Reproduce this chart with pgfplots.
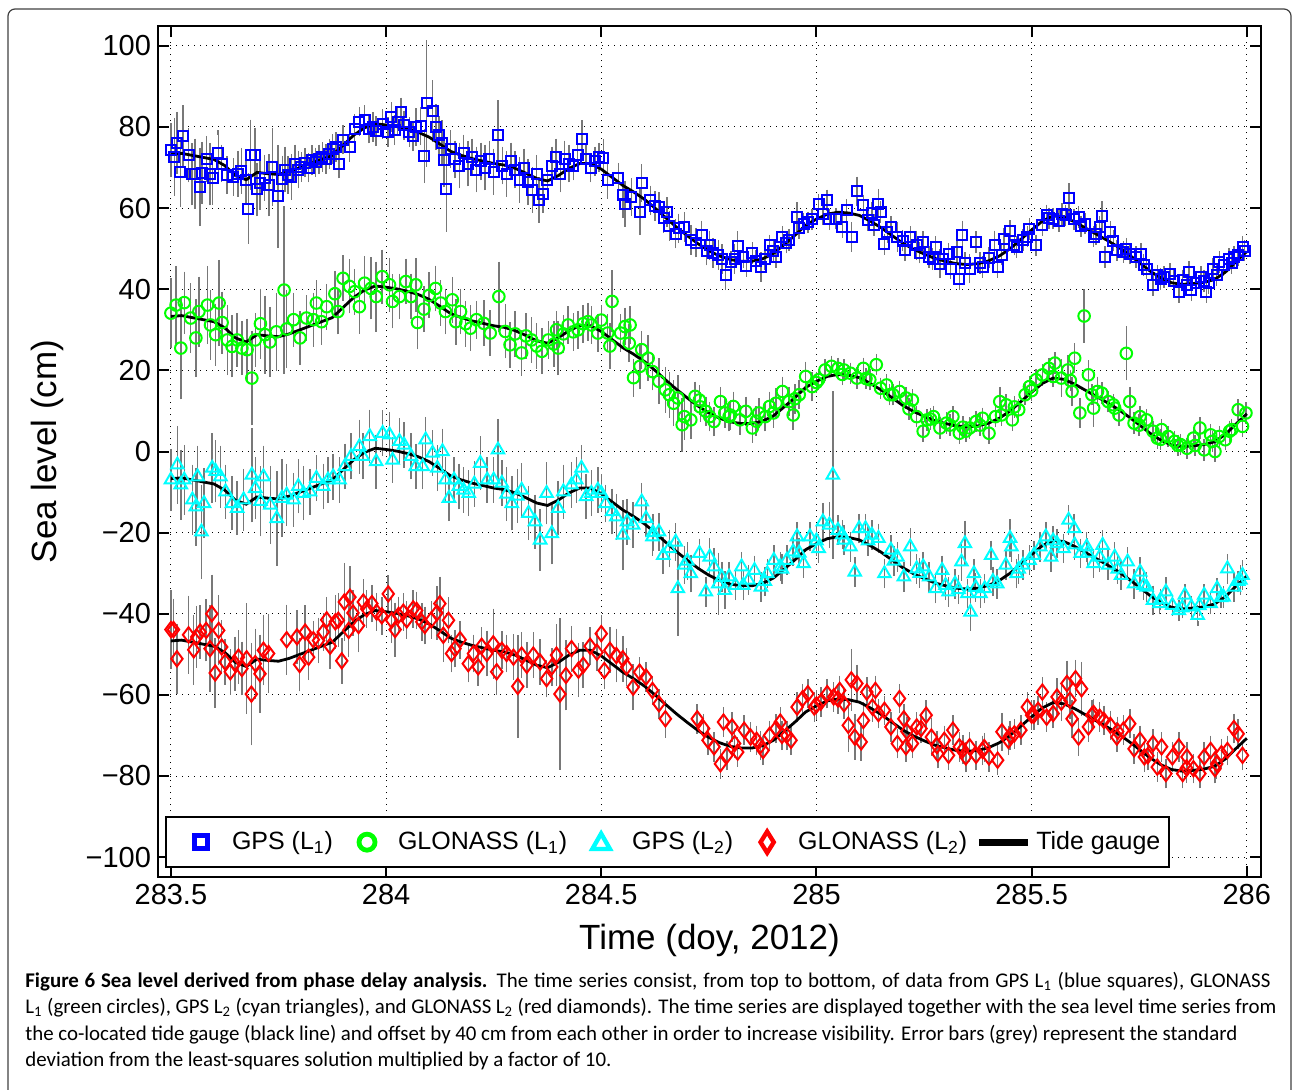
\documentclass[border=0pt]{standalone}
\usepackage{fontspec}
\setmainfont{Liberation Sans}
\newfontfamily\capfont{Carlito}
\usepackage{pgfplots}
\usepackage{pgfplotstable}
\pgfplotsset{compat=1.18}
\definecolor{mblue}{rgb}{0,0,1}
\definecolor{mgreen}{rgb}{0,1,0}
\definecolor{mcyan}{rgb}{0,1,1}
\definecolor{mred}{rgb}{1,0,0}
\definecolor{ebgrey}{rgb}{0.47,0.47,0.47}

% tide gauge, 4 copies offset by 40 cm (a = top ... d = bottom)
\pgfplotstableread{
t a b c d
283.5000 73.3 33.3 -6.7 -46.7
283.5125 73.4 33.4 -6.6 -46.6
283.5250 73.5 33.5 -6.5 -46.5
283.5375 73.25 33.25 -6.75 -46.75
283.5500 73.0 33.0 -7.0 -47.0
283.5625 72.75 32.75 -7.25 -47.25
283.5750 72.5 32.5 -7.5 -47.5
283.5875 72.25 32.25 -7.75 -47.75
283.6000 72.0 32.0 -8.0 -48.0
283.6125 71.25 31.25 -8.75 -48.75
283.6250 70.5 30.5 -9.5 -49.5
283.6375 69.25 29.25 -10.75 -50.75
283.6500 68.0 28.0 -12.0 -52.0
283.6625 67.5 27.5 -12.5 -52.5
283.6750 67.0 27.0 -13.0 -53.0
283.6875 67.9 27.9 -12.1 -52.1
283.7000 68.8 28.8 -11.2 -51.2
283.7125 68.65 28.65 -11.35 -51.35
283.7250 68.5 28.5 -11.5 -51.5
283.7375 68.4 28.4 -11.6 -51.6
283.7500 68.3 28.3 -11.7 -51.7
283.7625 68.65 28.65 -11.35 -51.35
283.7750 69.0 29.0 -11.0 -51.0
283.7875 69.5 29.5 -10.5 -50.5
283.8000 70.0 30.0 -10.0 -50.0
283.8125 70.5 30.5 -9.5 -49.5
283.8250 71.0 31.0 -9.0 -49.0
283.8375 71.5 31.5 -8.5 -48.5
283.8500 72.0 32.0 -8.0 -48.0
283.8625 72.5 32.5 -7.5 -47.5
283.8750 73.0 33.0 -7.0 -47.0
283.8875 74.25 34.25 -5.75 -45.75
283.9000 75.5 35.5 -4.5 -44.5
283.9125 76.75 36.75 -3.25 -43.25
283.9250 78.0 38.0 -2.0 -42.0
283.9375 78.9 38.9 -1.1 -41.1
283.9500 79.8 39.8 -0.2 -40.2
283.9625 80.3 40.3 0.3 -39.7
283.9750 80.8 40.8 0.8 -39.2
283.9875 80.65 40.65 0.65 -39.35
284.0000 80.5 40.5 0.5 -39.5
284.0125 80.3 40.3 0.3 -39.7
284.0250 80.1 40.1 0.1 -39.9
284.0375 79.8 39.8 -0.2 -40.2
284.0500 79.5 39.5 -0.5 -40.5
284.0625 79.1 39.1 -0.9 -40.9
284.0750 78.7 38.7 -1.3 -41.3
284.0875 78.1 38.1 -1.9 -41.9
284.1000 77.5 37.5 -2.5 -42.5
284.1125 76.65 36.65 -3.35 -43.35
284.1250 75.8 35.8 -4.2 -44.2
284.1375 74.9 34.9 -5.1 -45.1
284.1500 74.0 34.0 -6.0 -46.0
284.1625 73.5 33.5 -6.5 -46.5
284.1750 73.0 33.0 -7.0 -47.0
284.1875 72.6 32.6 -7.4 -47.4
284.2000 72.2 32.2 -7.8 -47.8
284.2125 71.9 31.9 -8.1 -48.1
284.2250 71.6 31.6 -8.4 -48.4
284.2375 71.3 31.3 -8.7 -48.7
284.2500 71.0 31.0 -9.0 -49.0
284.2625 70.8 30.8 -9.2 -49.2
284.2750 70.6 30.6 -9.4 -49.4
284.2875 70.2 30.2 -9.8 -49.8
284.3000 69.8 29.8 -10.2 -50.2
284.3125 69.2 29.2 -10.8 -50.8
284.3250 68.6 28.6 -11.4 -51.4
284.3375 67.95 27.95 -12.05 -52.05
284.3500 67.3 27.3 -12.7 -52.7
284.3625 67.0 27.0 -13.0 -53.0
284.3750 66.7 26.7 -13.3 -53.3
284.3875 67.35 27.35 -12.65 -52.65
284.4000 68.0 28.0 -12.0 -52.0
284.4125 68.9 28.9 -11.1 -51.1
284.4250 69.8 29.8 -10.2 -50.2
284.4375 70.4 30.4 -9.6 -49.6
284.4500 71.0 31.0 -9.0 -49.0
284.4625 71.0 31.0 -9.0 -49.0
284.4750 71.0 31.0 -9.0 -49.0
284.4875 70.3 30.3 -9.7 -49.7
284.5000 69.6 29.6 -10.4 -50.4
284.5125 68.6 28.6 -11.4 -51.4
284.5250 67.6 27.6 -12.4 -52.4
284.5375 66.6 26.6 -13.4 -53.4
284.5500 65.6 25.6 -14.4 -54.4
284.5625 64.8 24.8 -15.2 -55.2
284.5750 64.0 24.0 -16.0 -56.0
284.5875 63.1 23.1 -16.9 -56.9
284.6000 62.2 22.2 -17.8 -57.8
284.6125 61.1 21.1 -18.9 -58.9
284.6250 60.0 20.0 -20.0 -60.0
284.6375 58.8 18.8 -21.2 -61.2
284.6500 57.6 17.6 -22.4 -62.4
284.6625 56.45 16.45 -23.55 -63.55
284.6750 55.3 15.3 -24.7 -64.7
284.6875 54.25 14.25 -25.75 -65.75
284.7000 53.2 13.2 -26.8 -66.8
284.7125 52.2 12.2 -27.8 -67.8
284.7250 51.2 11.2 -28.8 -68.8
284.7375 50.35 10.35 -29.65 -69.65
284.7500 49.5 9.5 -30.5 -70.5
284.7625 48.85 8.85 -31.15 -71.15
284.7750 48.2 8.2 -31.8 -71.8
284.7875 47.75 7.75 -32.25 -72.25
284.8000 47.3 7.3 -32.7 -72.7
284.8125 47.1 7.1 -32.9 -72.9
284.8250 46.9 6.9 -33.1 -73.1
284.8375 46.9 6.9 -33.1 -73.1
284.8500 46.9 6.9 -33.1 -73.1
284.8625 47.2 7.2 -32.8 -72.8
284.8750 47.5 7.5 -32.5 -72.5
284.8875 48.15 8.15 -31.85 -71.85
284.9000 48.8 8.8 -31.2 -71.2
284.9125 49.9 9.9 -30.1 -70.1
284.9250 51.0 11.0 -29.0 -69.0
284.9375 52.15 12.15 -27.85 -67.85
284.9500 53.3 13.3 -26.7 -66.7
284.9625 54.55 14.55 -25.45 -65.45
284.9750 55.8 15.8 -24.2 -64.2
284.9875 56.55 16.55 -23.45 -63.45
285.0000 57.3 17.3 -22.7 -62.7
285.0125 57.9 17.9 -22.1 -62.1
285.0250 58.5 18.5 -21.5 -61.5
285.0375 58.75 18.75 -21.25 -61.25
285.0500 59.0 19.0 -21.0 -61.0
285.0625 58.9 18.9 -21.1 -61.1
285.0750 58.8 18.8 -21.2 -61.2
285.0875 58.5 18.5 -21.5 -61.5
285.1000 58.2 18.2 -21.8 -61.8
285.1125 57.5 17.5 -22.5 -62.5
285.1250 56.8 16.8 -23.2 -63.2
285.1375 56.0 16.0 -24.0 -64.0
285.1500 55.2 15.2 -24.8 -64.8
285.1625 54.25 14.25 -25.75 -65.75
285.1750 53.3 13.3 -26.7 -66.7
285.1875 52.35 12.35 -27.65 -67.65
285.2000 51.4 11.4 -28.6 -68.6
285.2125 50.65 10.65 -29.35 -69.35
285.2250 49.9 9.9 -30.1 -70.1
285.2375 49.3 9.3 -30.7 -70.7
285.2500 48.7 8.7 -31.3 -71.3
285.2625 48.15 8.15 -31.85 -71.85
285.2750 47.6 7.6 -32.4 -72.4
285.2875 47.25 7.25 -32.75 -72.75
285.3000 46.9 6.9 -33.1 -73.1
285.3125 46.6 6.6 -33.4 -73.4
285.3250 46.3 6.3 -33.7 -73.7
285.3375 46.2 6.2 -33.8 -73.8
285.3500 46.1 6.1 -33.9 -73.9
285.3625 46.2 6.2 -33.8 -73.8
285.3750 46.3 6.3 -33.7 -73.7
285.3875 46.65 6.65 -33.35 -73.35
285.4000 47.0 7.0 -33.0 -73.0
285.4125 47.6 7.6 -32.4 -72.4
285.4250 48.2 8.2 -31.8 -71.8
285.4375 49.1 9.1 -30.9 -70.9
285.4500 50.0 10.0 -30.0 -70.0
285.4625 51.15 11.15 -28.85 -68.85
285.4750 52.3 12.3 -27.7 -67.7
285.4875 53.45 13.45 -26.55 -66.55
285.5000 54.6 14.6 -25.4 -65.4
285.5125 55.7 15.7 -24.3 -64.3
285.5250 56.8 16.8 -23.2 -63.2
285.5375 57.45 17.45 -22.55 -62.55
285.5500 58.1 18.1 -21.9 -61.9
285.5625 57.95 17.95 -22.05 -62.05
285.5750 57.8 17.8 -22.2 -62.2
285.5875 57.2 17.2 -22.8 -62.8
285.6000 56.6 16.6 -23.4 -63.4
285.6125 55.85 15.85 -24.15 -64.15
285.6250 55.1 15.1 -24.9 -64.9
285.6375 54.35 14.35 -25.65 -65.65
285.6500 53.6 13.6 -26.4 -66.4
285.6625 52.85 12.85 -27.15 -67.15
285.6750 52.1 12.1 -27.9 -67.9
285.6875 51.3 11.3 -28.7 -68.7
285.7000 50.5 10.5 -29.5 -69.5
285.7125 49.55 9.55 -30.45 -70.45
285.7250 48.6 8.6 -31.4 -71.4
285.7375 47.6 7.6 -32.4 -72.4
285.7500 46.6 6.6 -33.4 -73.4
285.7625 45.55 5.55 -34.45 -74.45
285.7750 44.5 4.5 -35.5 -75.5
285.7875 43.65 3.65 -36.35 -76.35
285.8000 42.8 2.8 -37.2 -77.2
285.8125 42.2 2.2 -37.8 -77.8
285.8250 41.6 1.6 -38.4 -78.4
285.8375 41.4 1.4 -38.6 -78.6
285.8500 41.2 1.2 -38.8 -78.8
285.8625 41.3 1.3 -38.7 -78.7
285.8750 41.4 1.4 -38.6 -78.6
285.8875 41.55 1.55 -38.45 -78.45
285.9000 41.7 1.7 -38.3 -78.3
285.9125 42.05 2.05 -37.95 -77.95
285.9250 42.4 2.4 -37.6 -77.6
285.9375 43.3 3.3 -36.7 -76.7
285.9500 44.2 4.2 -35.8 -75.8
285.9625 45.5 5.5 -34.5 -74.5
285.9750 46.8 6.8 -33.2 -73.2
285.9875 48.05 8.05 -31.95 -71.95
286.0000 49.3 9.3 -30.7 -70.7
}\tide

% GPS L1
\pgfplotstableread{
t v e
283.500 74.3 6
283.508 72.6 9
283.514 76.1 7
283.522 68.9 8
283.528 77.7 7
283.541 73.0 6
283.549 68.3 7
283.556 68.5 8
283.568 65.2 9
283.572 68.7 7
283.583 72.2 5
283.591 68.3 7
283.597 67.5 6
283.610 73.6 5
283.618 71.0 4
283.630 68.1 4
283.645 67.7 4
283.656 68.5 5
283.664 69.2 5
283.674 66.9 5
283.680 59.9 8
283.685 73.2 8
283.695 73.2 6
283.700 64.6 6
283.707 66.2 6
283.718 67.5 5
283.728 65.6 7
283.736 70.1 9
283.749 62.9 12
283.759 67.3 5
283.765 69.5 5
283.772 68.2 4
283.780 67.7 5
283.788 71.0 4
283.796 69.5 4
283.803 70.1 3
283.812 71.2 3
283.820 70.0 3
283.828 71.8 3
283.836 71.3 3
283.844 72.0 3
283.852 72.6 3
283.860 72.1 3
283.868 73.3 3
283.876 74.6 3
283.884 75.1 3
283.890 71.0 3
283.900 76.9 3
283.915 75.1 3
283.927 79.6 3
283.938 81.3 3
283.950 81.7 3
283.960 79.6 3
283.970 80.0 3
283.977 79.0 3
283.992 80.7 3
284.004 78.8 3
284.012 82.5 3
284.020 79.2 3
284.027 81.3 3
284.035 83.6 3
284.042 80.4 3
284.054 78.8 3
284.062 77.7 3
284.070 80.0 4
284.080 80.2 4
284.089 72.8 6
284.094 85.8 15
284.108 83.9 7
284.116 80.0 5
284.123 78.1 4
284.130 76.0 5
284.135 71.8 6
284.140 64.8 10
284.150 74.5 4
284.160 72.0 4
284.170 70.5 5
284.180 73.5 4
284.190 71.0 5
284.200 72.5 4
284.210 69.5 5
284.220 71.5 4
284.230 70.0 5
284.240 72.0 4
284.250 69.0 5
284.260 78.0 8
284.270 70.5 4
284.280 68.5 5
284.290 71.5 4
284.300 69.5 4
284.310 67.0 5
284.320 70.0 4
284.330 66.5 5
284.340 64.5 5
284.350 68.5 4
284.355 62.0 5
284.365 63.5 4
284.375 67.0 4
284.385 70.5 4
284.395 72.5 4
284.405 68.5 4
284.415 72.0 4
284.425 71.0 4
284.435 70.5 3
284.445 73.0 3
284.455 77.0 4
284.465 72.0 3
284.475 70.0 3
284.485 71.5 3
284.495 72.5 3
284.505 72.4 4
284.515 66.9 4
284.540 67.5 3
284.550 63.2 5
284.555 61.1 5
284.570 62.7 4
284.590 59.0 5
284.594 66.2 4
284.614 61.9 3
284.625 60.5 3
284.634 60.3 3
284.645 57.5 3
284.653 59.0 3
284.658 55.6 3
284.673 53.7 3
284.680 55.0 3
284.693 55.3 3
284.708 52.1 3
284.720 51.5 3
284.733 53.3 3
284.745 49.5 3
284.752 50.8 3
284.760 49.0 3
284.772 48.4 3
284.780 47.5 3
284.789 43.4 3
284.802 46.7 2
284.810 47.5 3
284.817 50.6 3
284.830 48.0 2
284.837 45.7 2
284.851 48.9 2
284.860 47.0 2
284.871 45.5 3
284.880 47.5 2
284.891 50.8 2
284.900 49.5 2
284.906 48.0 2
284.921 52.9 2
284.930 51.5 2
284.936 52.1 2
284.955 57.8 3
284.960 55.0 2
284.970 56.2 2
284.980 56.5 2
284.990 57.2 2
285.005 60.9 2
285.015 58.5 2
285.025 61.9 2
285.030 57.2 2
285.045 57.4 2
285.060 55.3 2
285.070 59.5 2
285.082 52.9 3
285.094 64.1 3
285.109 60.7 2
285.120 57.0 2
285.129 58.8 2
285.134 55.8 2
285.144 61.1 3
285.149 59.0 2
285.158 51.1 2
285.165 54.0 2
285.173 55.3 2
285.188 52.9 3
285.200 52.0 2
285.206 49.6 2
285.218 52.9 2
285.233 50.8 3
285.240 49.0 2
285.248 51.7 2
285.262 48.0 2
285.270 47.5 2
285.277 50.4 2
285.287 46.3 3
285.295 47.5 2
285.307 48.8 2
285.312 45.1 2
285.327 49.2 2
285.332 42.5 2
285.339 53.3 3
285.345 46.5 2
285.356 45.1 3
285.371 51.7 2
285.380 46.5 2
285.386 45.5 2
285.401 47.8 2
285.414 50.8 3
285.421 45.5 2
285.430 48.5 2
285.436 52.5 2
285.450 54.4 2
285.460 51.0 2
285.465 50.4 2
285.480 52.1 2
285.490 53.0 2
285.495 54.9 2
285.510 50.8 2
285.525 55.8 2
285.535 58.2 2
285.540 57.5 2
285.550 57.4 2
285.564 56.8 2
285.570 58.5 2
285.579 58.2 2
285.587 62.5 3
285.599 57.2 2
285.609 57.8 2
285.615 55.5 2
285.624 56.2 2
285.644 53.0 2
285.650 53.5 2
285.658 55.3 2
285.663 58.1 3
285.671 48.0 2
285.683 54.1 2
285.690 52.0 2
285.698 49.6 2
285.713 49.2 2
285.720 50.0 2
285.728 48.8 2
285.743 48.0 2
285.754 48.8 2
285.760 46.0 2
285.767 45.1 2
285.782 41.0 2
285.792 43.4 2
285.800 42.5 2
285.807 43.0 2
285.822 43.8 2
285.830 42.0 2
285.842 39.3 2
285.851 42.2 2
285.860 41.0 2
285.866 44.3 2
285.871 39.7 2
285.881 41.5 2
285.893 43.0 2
285.900 42.0 2
285.906 39.3 2
285.911 41.5 2
285.921 45.1 2
285.930 43.5 2
285.936 46.7 2
285.946 45.9 2
285.959 47.5 2
285.965 46.5 2
285.970 48.0 2
285.980 48.4 2
285.990 50.4 2
285.995 49.5 2
}\gpsone

% GLONASS L1
\pgfplotstableread{
t v e
283.500 34.1 8
283.512 36.1 9
283.523 25.5 12
283.531 36.7 7
283.546 32.9 8
283.558 28.0 9
283.565 34.5 8
283.585 36.1 9
283.592 31.2 8
283.604 28.8 7
283.612 36.6 10
283.619 31.8 7
283.631 27.5 8
283.642 25.9 7
283.654 27.5 6
283.665 25.5 6
283.677 25.1 7
283.688 18.1 11
283.696 27.5 6
283.708 31.5 8
283.719 28.8 9
283.730 27.0 8
283.745 29.5 9
283.763 39.8 20
283.769 30.2 9
283.785 32.5 6
283.800 28.0 6
283.815 32.9 5
283.831 32.5 6
283.838 36.6 5
283.850 32.0 5
283.862 35.7 5
283.881 38.9 5
283.888 34.5 5
283.900 42.7 5
283.915 40.7 6
283.927 39.4 5
283.938 35.7 6
283.950 41.5 6
283.965 40.2 7
283.977 38.2 8
283.991 43.1 6
284.008 41.1 6
284.015 37.0 6
284.031 38.2 5
284.046 41.9 5
284.058 38.2 5
284.069 41.1 6
284.073 31.8 6
284.088 35.1 5
284.100 38.5 5
284.115 40.2 5
284.127 36.6 5
284.138 34.5 5
284.154 37.4 5
284.162 32.0 5
284.173 34.5 5
284.185 31.5 5
284.196 30.4 5
284.210 32.5 4
284.227 31.6 5
284.242 29.2 5
284.262 38.2 8
284.277 29.6 6
284.288 26.3 5
284.300 29.0 5
284.315 24.3 5
284.325 28.5 5
284.338 27.5 5
284.350 26.0 5
284.362 24.7 5
284.377 27.5 4
284.390 26.5 5
284.396 30.0 4
284.400 25.5 6
284.412 29.0 4
284.423 31.2 4
284.435 29.5 4
284.446 30.0 4
284.458 31.5 4
284.469 32.0 4
284.477 31.2 4
284.492 29.2 4
284.500 32.4 3
284.515 29.2 4
284.520 26.0 5
284.525 37.0 7
284.545 29.2 4
284.555 30.8 4
284.565 26.7 4
284.567 31.2 4
284.575 18.2 4
284.590 21.0 5
284.594 25.1 4
284.609 23.0 5
284.619 19.7 4
284.634 17.3 5
284.649 15.2 5
284.658 14.0 5
284.668 11.9 5
284.678 13.2 5
284.688 6.6 6
284.693 8.6 5
284.708 7.8 4
284.718 13.6 3
284.728 12.7 3
284.730 11.0 3
284.743 9.9 3
284.752 8.6 3
284.762 7.4 3
284.777 12.3 3
284.787 9.5 3
284.797 8.6 3
284.800 9.0 3
284.807 11.1 3
284.822 7.8 3
284.836 9.9 3
284.851 5.8 3
284.860 7.5 3
284.866 9.5 3
284.881 8.6 3
284.891 11.1 3
284.900 9.5 3
284.906 11.9 3
284.921 14.8 3
284.936 12.3 3
284.946 9.0 3
284.950 13.0 3
284.960 14.0 3
284.975 18.5 3
284.990 16.0 3
285.000 17.0 2
285.005 17.7 2
285.020 20.1 2
285.035 21.0 2
285.050 20.5 2
285.060 19.0 2
285.064 20.1 2
285.079 19.3 2
285.094 18.1 2
285.109 20.5 2
285.115 18.0 2
285.124 17.7 2
285.139 21.4 2
285.149 15.6 2
285.163 16.4 2
285.170 14.0 2
285.178 14.0 2
285.193 14.8 2
285.208 13.2 2
285.215 10.5 2
285.223 12.7 2
285.233 8.6 2
285.248 5.0 2
285.257 7.8 2
285.265 8.0 2
285.272 8.6 2
285.287 5.8 2
285.302 7.0 2
285.310 6.5 2
285.317 8.6 2
285.332 4.5 2
285.340 6.0 2
285.347 5.0 2
285.356 5.8 2
285.371 7.4 2
285.380 6.5 2
285.386 8.2 2
285.401 4.5 2
285.416 8.6 2
285.426 12.3 3
285.430 9.0 2
285.441 11.5 2
285.455 7.8 2
285.460 11.0 2
285.470 10.3 2
285.485 14.0 2
285.495 16.0 2
285.500 15.0 2
285.510 17.7 2
285.525 18.9 2
285.540 20.5 2
285.550 18.5 2
285.554 21.8 2
285.569 18.1 4
285.584 20.1 3
285.590 17.5 2
285.594 14.8 3
285.600 23.0 3
285.612 9.5 3
285.622 33.4 6
285.632 18.9 3
285.640 14.0 2
285.644 10.7 4
285.653 14.8 3
285.663 14.4 2
285.678 12.3 2
285.690 11.5 2
285.693 10.7 2
285.703 9.0 2
285.720 24.2 6
285.728 12.3 3
285.738 7.0 2
285.750 6.5 2
285.752 8.6 2
285.767 7.8 2
285.782 5.0 2
285.792 3.3 2
285.800 3.0 2
285.802 5.4 2
285.817 3.7 2
285.832 2.5 2
285.840 1.5 2
285.846 1.7 2
285.861 0.8 2
285.876 3.3 2
285.880 1.5 2
285.891 5.8 2
285.901 0.4 2
285.916 4.1 2
285.920 2.5 2
285.926 0.0 2
285.936 3.7 2
285.950 2.9 2
285.960 5.0 2
285.965 5.4 2
285.980 10.3 2
285.990 6.2 2
285.998 9.5 2
}\glonone

% GPS L2
\pgfplotstableread{
t v e
283.500 -7.0 7
283.515 -3.3 9
283.523 -8.2 8
283.531 -7.0 8
283.550 -11.9 8
283.558 -13.6 9
283.562 -6.2 7
283.571 -19.8 11
283.577 -12.8 8
283.596 -4.1 8
283.604 -4.9 7
283.615 -6.2 7
283.627 -9.9 6
283.642 -12.8 6
283.654 -14.0 6
283.669 -11.9 7
283.688 -5.8 11
283.696 -9.1 7
283.708 -12.3 8
283.715 -6.2 7
283.731 -13.2 9
283.746 -16.5 11
283.758 -11.5 9
283.769 -10.7 7
283.785 -11.9 6
283.796 -8.6 6
283.808 -10.3 6
283.823 -9.9 5
283.838 -6.6 5
283.854 -8.6 5
283.865 -7.0 5
283.877 -6.2 5
283.892 -7.0 5
283.904 -3.7 5
283.919 -1.2 5
283.938 1.2 6
283.946 -1.2 5
283.962 3.7 6
283.977 -2.5 6
283.992 4.5 5
284.008 4.1 5
284.015 -2.1 5
284.031 2.5 5
284.042 1.6 5
284.058 -1.2 5
284.069 -3.7 5
284.085 -3.7 5
284.092 2.9 5
284.108 -0.4 5
284.119 -4.1 5
284.131 0.0 5
284.138 -7.0 5
284.146 -11.5 5
284.158 -7.0 5
284.169 -8.6 5
284.180 -9.5 5
284.192 -10.3 5
284.205 -8.0 5
284.219 -2.9 6
284.235 -7.0 5
284.250 -7.0 5
284.260 0.4 7
284.269 -7.8 5
284.280 -10.5 6
284.292 -12.8 6
284.305 -11.0 6
284.315 -9.5 6
284.331 -15.2 6
284.346 -17.3 6
284.358 -21.8 7
284.373 -10.3 7
284.385 -20.2 7
284.400 -14.0 6
284.412 -9.9 6
284.431 -8.2 5
284.442 -7.0 5
284.454 -4.1 5
284.465 -11.1 5
284.477 -10.3 5
284.492 -9.5 5
284.500 -10.3 4
284.510 -12.8 4
284.525 -14.8 5
284.535 -16.1 5
284.550 -20.6 8
284.560 -17.3 5
284.574 -18.1 5
284.594 -12.4 4
284.604 -16.5 4
284.619 -21.0 4
284.620 -20.0 4
284.634 -19.8 4
284.644 -25.6 4
284.658 -23.9 4
284.673 -22.3 4
284.678 -33.8 11
284.693 -28.0 4
284.700 -27.0 4
284.708 -30.1 4
284.728 -25.1 3
284.743 -34.6 3
284.752 -26.0 4
284.762 -28.4 4
284.772 -32.6 7
284.780 -31.0 3
284.787 -34.2 4
284.797 -30.9 3
284.812 -33.0 3
284.826 -28.4 3
284.830 -33.0 3
284.842 -31.7 3
284.856 -29.3 3
284.871 -33.4 3
284.880 -32.0 3
284.886 -30.1 3
284.901 -26.8 3
284.916 -28.4 3
284.920 -29.0 3
284.931 -26.8 3
284.946 -24.7 3
284.955 -21.0 3
284.960 -25.0 3
284.970 -27.6 3
284.985 -21.0 3
285.000 -22.0 3
285.005 -23.9 3
285.015 -17.3 4
285.030 -18.1 5
285.038 -5.8 20
285.050 -19.4 3
285.060 -20.5 3
285.064 -21.8 3
285.079 -23.5 3
285.089 -29.7 3
285.099 -19.0 3
285.114 -19.0 3
285.120 -22.0 3
285.129 -20.6 3
285.144 -21.4 3
285.158 -30.1 3
285.173 -24.3 3
285.180 -27.0 3
285.188 -26.0 3
285.203 -30.9 3
285.218 -23.5 4
285.233 -28.9 3
285.240 -30.0 3
285.248 -28.4 3
285.262 -30.9 3
285.277 -33.8 3
285.292 -29.3 3
285.300 -33.0 3
285.307 -34.6 3
285.322 -32.6 3
285.330 -34.0 3
285.337 -27.2 4
285.345 -22.7 5
285.351 -35.0 3
285.358 -39.6 4
285.366 -30.1 3
285.370 -33.5 3
285.381 -35.0 3
285.391 -33.8 3
285.406 -25.6 3
285.410 -32.0 3
285.420 -32.6 3
285.440 -28.0 3
285.450 -21.4 4
285.453 -23.5 3
285.465 -30.1 3
285.470 -29.0 3
285.480 -28.0 3
285.495 -26.8 3
285.505 -25.6 3
285.520 -23.5 3
285.533 -21.0 3
285.545 -26.0 3
285.550 -22.0 3
285.559 -22.7 3
285.574 -23.9 3
285.586 -16.9 3
285.599 -19.0 3
285.600 -23.0 3
285.614 -25.1 3
285.628 -23.5 3
285.630 -25.0 3
285.644 -27.6 3
285.658 -26.0 3
285.665 -23.1 3
285.678 -28.0 3
285.693 -26.0 3
285.700 -29.0 3
285.708 -30.5 3
285.723 -27.2 3
285.738 -32.6 3
285.752 -29.7 3
285.760 -33.0 3
285.767 -33.4 3
285.782 -36.7 3
285.797 -37.5 2
285.800 -36.5 2
285.812 -34.6 3
285.827 -37.9 2
285.842 -39.2 2
285.850 -38.5 2
285.856 -35.4 2
285.871 -38.3 2
285.886 -40.4 2
285.890 -38.0 2
285.901 -35.4 2
285.916 -37.5 2
285.931 -33.8 2
285.940 -36.0 2
285.946 -35.9 2
285.955 -28.9 3
285.970 -33.4 3
285.980 -32.0 2
285.985 -31.7 3
285.990 -30.5 3
}\gpstwo

% GLONASS L2
\pgfplotstableread{
t v e
283.500 -43.9 9
283.506 -43.9 7
283.514 -51.1 8
283.541 -45.2 9
283.553 -48.9 8
283.560 -45.7 7
283.568 -44.5 6
283.582 -44.1 7
283.591 -48.6 10
283.595 -40.0 9
283.603 -54.6 8
283.611 -44.1 8
283.618 -48.2 6
283.626 -51.9 5
283.638 -54.3 5
283.649 -52.3 6
283.657 -50.7 6
283.665 -53.5 6
283.676 -51.1 13
283.687 -59.8 12
283.696 -52.3 8
283.707 -54.8 9
283.715 -49.0 8
283.727 -49.8 9
283.769 -46.4 8
283.793 -45.7 6
283.799 -52.5 6
283.812 -44.5 6
283.820 -50.7 5
283.831 -46.4 4
283.843 -46.6 5
283.854 -44.5 4
283.862 -41.5 5
283.870 -48.0 5
283.882 -42.0 6
283.889 -41.6 6
283.897 -51.6 5
283.903 -37.1 9
283.913 -44.1 6
283.916 -35.9 7
283.923 -39.8 5
283.936 -42.9 6
283.947 -37.1 5
283.955 -38.8 4
283.967 -37.5 4
283.978 -39.6 4
283.990 -40.5 4
284.005 -35.1 4
284.013 -41.6 5
284.021 -43.9 6
284.029 -40.4 4
284.040 -39.6 4
284.048 -41.5 4
284.063 -38.8 4
284.071 -39.2 4
284.083 -42.0 4
284.090 -42.9 4
284.105 -41.5 4
284.118 -39.8 6
284.125 -37.5 6
284.133 -45.3 6
284.145 -41.6 5
284.152 -49.8 4
284.160 -48.6 4
284.172 -46.4 4
284.191 -52.3 4
284.203 -49.8 4
284.214 -53.1 4
284.222 -48.0 4
284.234 -49.8 5
284.249 -47.4 8
284.257 -54.3 5
284.269 -49.0 4
284.280 -49.8 4
284.296 -50.7 5
284.306 -57.9 12
284.315 -50.2 5
284.327 -52.7 5
284.342 -50.2 5
284.358 -51.9 5
284.373 -56.0 4
284.385 -53.1 4
284.396 -50.2 7
284.404 -59.8 18
284.418 -55.2 8
284.431 -48.6 5
284.447 -53.9 6
284.458 -52.7 5
284.474 -48.0 4
284.490 -49.5 4
284.500 -44.9 4
284.507 -54.0 4
284.520 -49.0 5
284.535 -50.3 6
284.550 -51.1 5
284.559 -53.1 4
284.574 -58.1 5
284.589 -54.4 3
284.604 -55.6 3
284.619 -58.9 3
284.634 -62.2 3
284.649 -65.9 4
284.723 -65.9 3
284.738 -68.3 3
284.748 -71.2 3
284.762 -72.8 3
284.777 -77.0 3
284.784 -66.7 3
284.792 -74.9 3
284.804 -67.9 3
284.810 -72.0 3
284.817 -74.1 3
284.832 -68.7 3
284.847 -70.4 3
284.861 -71.2 3
284.870 -72.5 3
284.876 -73.7 3
284.891 -70.0 3
284.906 -68.3 3
284.916 -66.7 3
284.920 -70.0 3
284.931 -70.0 3
284.941 -71.2 3
284.955 -63.0 3
284.968 -60.9 3
284.980 -59.7 3
284.995 -63.0 3
285.000 -62.5 3
285.010 -61.8 3
285.025 -59.7 3
285.040 -60.5 3
285.050 -61.0 3
285.054 -58.9 3
285.064 -62.2 3
285.074 -67.5 6
285.081 -56.3 7
285.089 -70.4 5
285.094 -57.2 4
285.104 -71.6 4
285.109 -66.3 4
285.117 -59.3 3
285.130 -63.0 3
285.137 -58.9 3
285.144 -64.6 3
285.158 -63.8 3
285.173 -67.9 3
285.188 -72.0 3
285.193 -60.9 3
285.203 -65.9 3
285.208 -72.8 3
285.210 -69.0 3
285.223 -72.0 3
285.233 -67.9 3
285.243 -68.3 3
285.255 -65.0 3
285.267 -70.4 4
285.280 -72.5 3
285.282 -74.5 3
285.297 -71.2 3
285.307 -74.9 3
285.317 -68.7 3
285.332 -72.8 3
285.340 -73.5 3
285.347 -75.3 3
285.356 -72.8 3
285.371 -74.9 3
285.386 -73.7 3
285.390 -73.0 3
285.401 -75.3 3
285.421 -76.1 3
285.431 -69.1 4
285.446 -71.2 3
285.450 -70.0 3
285.460 -69.6 3
285.475 -68.7 3
285.490 -63.0 3
285.500 -65.0 3
285.505 -65.0 3
285.515 -63.8 3
285.525 -59.3 3
285.535 -65.5 3
285.550 -64.6 3
285.559 -60.5 4
285.569 -61.8 4
285.582 -57.2 5
285.589 -61.3 4
285.594 -65.9 4
285.602 -56.0 4
285.609 -70.4 4
285.616 -58.5 6
285.632 -67.9 3
285.640 -65.0 3
285.644 -64.6 3
285.658 -65.5 3
285.668 -66.3 3
285.683 -67.5 3
285.698 -70.4 3
285.700 -69.0 3
285.713 -68.7 3
285.728 -67.1 3
285.738 -73.3 3
285.752 -71.2 3
285.762 -75.3 3
285.770 -75.0 3
285.782 -72.0 3
285.792 -77.8 3
285.802 -72.8 3
285.812 -79.4 3
285.827 -75.3 3
285.842 -72.8 3
285.851 -79.4 3
285.860 -78.0 3
285.861 -75.3 3
285.876 -78.2 3
285.891 -79.4 3
285.901 -75.3 3
285.916 -73.7 3
285.926 -78.2 3
285.930 -77.0 3
285.941 -74.5 3
285.955 -73.7 3
285.970 -68.3 3
285.980 -69.6 3
285.990 -74.9 3
}\glontwo

\begin{document}
\begin{tikzpicture}
\useasboundingbox (0,0) rectangle (647bp,-545bp);
\draw[line width=0.6bp, black!75, rounded corners=3.5bp]
  (4bp,-560bp) -- (4bp,-4.5bp) -- (645.5bp,-4.5bp) -- (645.5bp,-560bp);

\begin{axis}[
  at={(79bp,-438.5bp)}, anchor=south west,
  scale only axis, width=551.5bp, height=425.5bp,
  xmin=283.47, xmax=286.033, ymin=-104.9, ymax=104.9,
  xtick={283.5,284,284.5,285,285.5,286},
  xticklabels={283.5,284,284.5,285,285.5,286},
  ytick={-100,-80,-60,-40,-20,0,20,40,60,80,100},
  yticklabels={−100,−80,−60,−40,−20,0,20,40,60,80,100},
  ticklabel style={font=\fontsize{14.5bp}{17bp}\selectfont},
  tick align=inside, major tick length=5.3bp,
  axis line style={line width=1bp},
  every tick/.style={black, line width=1bp},
  grid=major,
  major grid style={black, line width=0.5bp, dash pattern=on 0.6bp off 2.4bp},
  xlabel={Time (doy, 2012)},
  ylabel={Sea level (cm)},
  every axis x label/.style={at={(axis description cs:0.5,-0.074)}, anchor=center,
    font=\fontsize{17.5bp}{20bp}\selectfont},
  every axis y label/.style={at={(axis description cs:-0.1006,0.5)}, rotate=90, anchor=center,
    font=\fontsize{17.5bp}{20bp}\selectfont},
  legend columns=5,
  legend style={at={(axis description cs:0.00635,0.0106)}, anchor=south west,
    draw=black, line width=1bp, inner xsep=4.5bp, inner ysep=6bp,
    font=\fontsize{12.5bp}{15bp}\selectfont,
    nodes={inner sep=0pt},
    /tikz/every odd column/.append style={column sep=2.5bp},
    /tikz/every even column/.append style={column sep=4bp}},
  legend cell align=left,
  eb/.style={error bars/.cd, y dir=both, y explicit,
    error bar style={ebgrey, line width=0.75bp},
    error mark options={ebgrey, line width=0.75bp, mark size=1.3bp}},
]

\addplot[only marks, mark=square, mark size=2.5bp, mark options={mblue, line width=1bp},
  legend image code/.code={\path[draw=none] (0bp,-5bp) rectangle (26bp,5bp);
    \draw[mblue, line width=2.4bp] (9.8bp,-3.2bp) rectangle (16.2bp,3.2bp);}, eb]
  table[x=t, y=v, y error=e] {\gpsone};
\addplot[only marks, mark=o, mark size=2.9bp, mark options={mgreen, line width=1bp},
  legend image code/.code={\path[draw=none] (0bp,-5bp) rectangle (26bp,5bp);
    \draw[mgreen, line width=2.4bp] (13bp,0bp) circle (4bp);}, eb]
  table[x=t, y=v, y error=e] {\glonone};
\addplot[only marks, mark=triangle, mark size=3.6bp, mark options={mcyan, line width=1bp},
  legend image code/.code={\path[draw=none] (0bp,-5bp) rectangle (26bp,5bp);
    \draw[mcyan, line width=2.2bp, line join=miter] (8.6bp,-3.4bp) -- (17.4bp,-3.4bp) -- (13bp,4.3bp) -- cycle;}, eb]
  table[x=t, y=v, y error=e] {\gpstwo};
\addplot[only marks, mark=diamond, mark size=3.8bp, mark options={mred, line width=1bp},
  legend image code/.code={\path[draw=none] (0bp,-5bp) rectangle (26bp,5bp);
    \draw[mred, line width=2.2bp, line join=miter] (13bp,-5.3bp) -- (16.3bp,0bp) -- (13bp,5.3bp) -- (9.7bp,0bp) -- cycle;}, eb]
  table[x=t, y=v, y error=e] {\glontwo};

\addplot[black, line width=1.4bp, no marks, legend image code/.code={
    \path[draw=none] (0bp,-5bp) rectangle (26bp,5bp);
    \draw[black, line width=3.5bp] (1bp,0bp) -- (25.5bp,0bp);}]
  table[x=t, y=a] {\tide};
\addplot[black, line width=1.4bp, no marks, forget plot] table[x=t, y=b] {\tide};
\addplot[black, line width=1.4bp, no marks, forget plot] table[x=t, y=c] {\tide};
\addplot[black, line width=1.4bp, no marks, forget plot] table[x=t, y=d] {\tide};

\legend{GPS (L\textsubscript{1}), GLONASS (L\textsubscript{1}), GPS (L\textsubscript{2}), GLONASS (L\textsubscript{2}), Tide gauge}
\end{axis}

\begin{scope}[every node/.style={anchor=base west, inner sep=0pt,
    font=\capfont\fontsize{10.45bp}{13bp}\selectfont}]
\node at (12.5bp,-493.5bp) {\makebox[622.5bp][s]{\textbf{Figure 6 Sea level derived from phase delay analysis.} The time series consist, from top to bottom, of data from GPS L\textsubscript{1} (blue squares), GLONASS}};
\node at (12.5bp,-506.5bp) {\makebox[625.5bp][s]{L\textsubscript{1} (green circles), GPS L\textsubscript{2} (cyan triangles), and GLONASS L\textsubscript{2} (red diamonds). The time series are displayed together with the sea level time series from}};
\node at (12.5bp,-520bp) {\makebox[606bp][s]{the co-located tide gauge (black line) and offset by 40 cm from each other in order to increase visibility. Error bars (grey) represent the standard}};
\node at (12.5bp,-533bp) {deviation from the least-squares solution multiplied by a factor of 10.};
\end{scope}
\end{tikzpicture}
\end{document}
